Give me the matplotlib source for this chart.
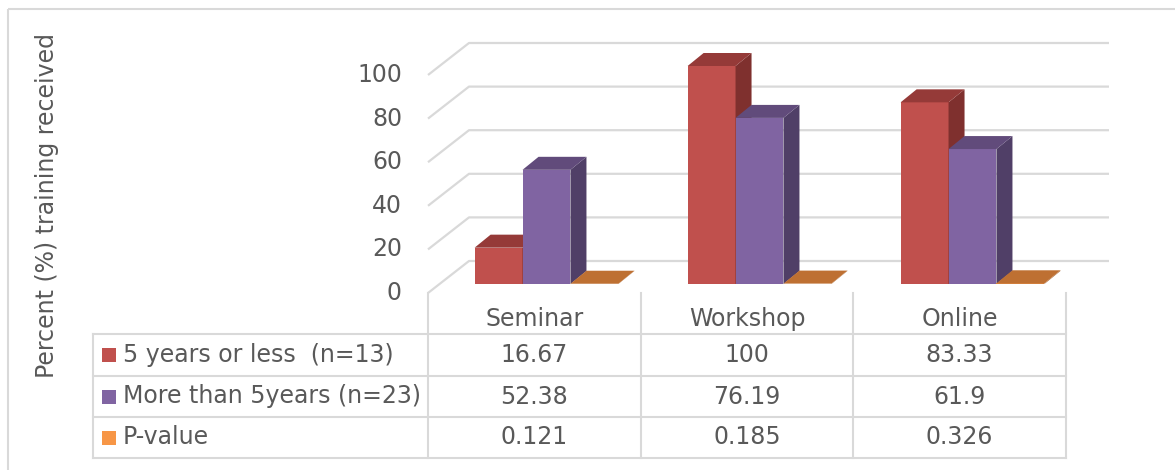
import matplotlib
matplotlib.use("Agg")
import matplotlib.pyplot as plt
from matplotlib.patches import Polygon, Rectangle

# data
categories = ["Seminar", "Workshop", "Online"]
series_names = ["5 years or less  (n=13)", "More than 5years (n=23)", "P-value"]
less5 = [16.67, 100, 83.33]
more5 = [52.38, 76.19, 61.9]
pvals = [0.121, 0.185, 0.326]
yticks = [0, 20, 40, 60, 80, 100]
ylabel = "Percent (%) training received"

# styles: front, top, side, legend swatch
colors = [
    ("#C0504D", "#953A38", "#7F302E", "#C0504D"),
    ("#8064A2", "#614B7B", "#503F67", "#8064A2"),
    ("#D9843F", "#BE7032", "#A65F2A", "#F79646"),
]
grey = "#D9D9D9"
txt = "#595959"
fs = 17

W, H = 1175, 470
fig = plt.figure(figsize=(W / 100, H / 100), dpi=100)

# background axes in pixel units (border, table, y label)
bg = fig.add_axes([0, 0, 1, 1])
bg.set_xlim(0, W)
bg.set_ylim(H, 0)
bg.axis("off")

# chart axes: x in category units, y in percent
X0, Y0 = 428, 293          # front-left corner of the floor
CAT_PX, UNIT_PX = 213, 2.18
XR, YT = 1109, 40
ax = fig.add_axes([X0 / W, 1 - Y0 / H, (XR - X0) / W, (Y0 - YT) / H])
ax.set_xlim(0, (XR - X0) / CAT_PX)
ax.set_ylim(0, (Y0 - YT) / UNIT_PX)
ax.axis("off")

# back wall gridlines + tick labels
wall_dx, wall_dy = 41 / CAT_PX, 32 / UNIT_PX
xmax = ax.get_xlim()[1]
for t in yticks:
    ax.plot([0, wall_dx, xmax], [t, t + wall_dy, t + wall_dy], color=grey,
            lw=1.6, clip_on=False, zorder=1, solid_capstyle="butt")
    ax.text(-26 / CAT_PX, t, str(t), ha="right", va="center",
            fontsize=fs, color=txt)

# pseudo 3d bars
bar_w = 0.225
pad = (1 - 3 * bar_w) / 2
front_dx, front_dy = 12 / CAT_PX, 9 / UNIT_PX
depth_dx, depth_dy = 16 / CAT_PX, 13 / UNIT_PX
series = [less5, more5, pvals]
for i in range(len(categories)):
    for j, vals in enumerate(series):
        v = vals[i]
        x = i + pad + j * bar_w + front_dx
        b = front_dy
        z = 3 + i * 3 + j
        fc, tc, sc, _ = colors[j]
        ax.bar(x, v, width=bar_w, bottom=b, align="edge", color=fc,
               linewidth=0, zorder=z)
        side = [(x + bar_w, b), (x + bar_w + depth_dx, b + depth_dy),
                (x + bar_w + depth_dx, b + v + depth_dy), (x + bar_w, b + v)]
        top = [(x, b + v), (x + bar_w, b + v),
               (x + bar_w + depth_dx, b + v + depth_dy), (x + depth_dx, b + v + depth_dy)]
        ax.add_patch(Polygon(side, closed=True, fc=sc, lw=0, zorder=z))
        ax.add_patch(Polygon(top, closed=True, fc=tc, lw=0, zorder=z))

# outer border
bg.add_patch(Rectangle((7.5, 9), W, H, fill=False, ec=grey, lw=1.5))

# data table
tbl_left = 93
col_edges = [428, 641, 853, 1066]
row_edges = [334, 376, 417, 458]
head_top = 293
for xc in col_edges:
    bg.plot([xc, xc], [head_top, row_edges[-1]], color=grey, lw=1.5)
bg.plot([tbl_left, tbl_left], [row_edges[0], row_edges[-1]], color=grey, lw=1.5)
for yr in row_edges:
    bg.plot([tbl_left, col_edges[-1]], [yr, yr], color=grey, lw=1.5)

for i, cat in enumerate(categories):
    cx = (col_edges[i] + col_edges[i + 1]) / 2
    bg.text(cx, 319, cat, ha="center", va="center", fontsize=fs, color=txt)
    for j, vals in enumerate(series):
        cy = (row_edges[j] + row_edges[j + 1]) / 2
        bg.text(cx, cy, f"{vals[i]:g}", ha="center", va="center",
                fontsize=fs, color=txt)

for j, name in enumerate(series_names):
    cy = (row_edges[j] + row_edges[j + 1]) / 2
    bg.add_patch(Rectangle((102, cy - 7), 14, 14, fc=colors[j][3], lw=0))
    bg.text(123, cy, name, ha="left", va="center", fontsize=fs, color=txt)

bg.text(47, 205, ylabel, rotation=90, ha="center", va="center",
        fontsize=fs, color=txt)

fig.savefig("out.png", dpi=100)
